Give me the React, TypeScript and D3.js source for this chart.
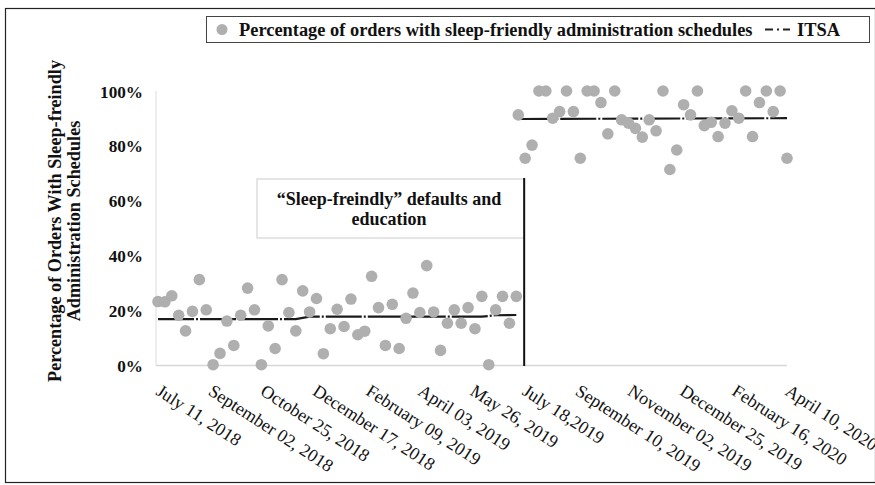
import React from "react";
import * as d3 from "d3";

// ---- data ----
const preStartDate = "2018-07-11";
const preValues = [
  23.3, 23.2, 25.4, 18.3, 12.6, 19.7, 31.3, 20.3, 0.3, 4.4,
  16.2, 7.3, 18.3, 28.2, 20.3, 0.3, 14.4, 6.2, 31.3, 19.3,
  12.6, 27.2, 19.5, 24.4, 4.3, 13.4, 20.5, 14.2, 24.2, 11.2,
  12.5, 32.5, 21.1, 7.3, 22.3, 6.2, 17.2, 26.4, 19.3, 36.4,
  19.5, 5.5, 15.4, 20.3, 15.4, 21.1, 13.4, 25.2, 0.3, 20.3,
  25.2, 15.4, 25.2,
];
const postStartDate = "2019-07-12";
const postValues = [
  91.3, 75.5, 80.3, 100, 100, 90.1, 92.5, 100, 92.5, 75.5,
  100, 100, 95.8, 84.4, 100, 89.5, 88.3, 86.4, 83.2, 89.5,
  85.5, 100, 71.4, 78.5, 95, 91.3, 100, 87.4, 88.6, 83.4,
  88.3, 92.8, 90.1, 100, 83.4, 95.8, 100, 92.5, 100, 75.5,
];
const itsaPreDates = ["2018-07-11", "2018-11-28", "2018-12-12", "2019-06-05", "2019-06-19", "2019-07-10"];
const itsaPreValues = [16.9, 16.9, 17.8, 17.8, 18.3, 18.4];
const itsaPostDates = ["2019-07-12", "2020-04-10"];
const itsaPostValues = [89.8, 90.1];
const interventionDate = "2019-07-18";

const tickDates = [
  "2018-07-11", "2018-09-02", "2018-10-25", "2018-12-17", "2019-02-09", "2019-04-03",
  "2019-05-26", "2019-07-18", "2019-09-10", "2019-11-02", "2019-12-25", "2020-02-16", "2020-04-10",
];
const tickLabels = [
  "July 11, 2018", "September 02, 2018", "October 25, 2018", "December 17, 2018",
  "February 09, 2019", "April 03, 2019", "May 26, 2019", "July 18,2019",
  "September 10, 2019", "November 02, 2019", "December 25, 2019", "February 16, 2020", "April 10, 2020",
];
const yTicks = [0, 20, 40, 60, 80, 100];
const yTitle = ["Percentage of Orders With Sleep-freindly", "Administration Schedules"];
const legendLabels = ["Percentage of orders with sleep-friendly administration schedules", "ITSA"];
const noteLines = ["\u201CSleep-freindly\u201D defaults and", "education"];

const parse = d3.utcParse("%Y-%m-%d");
const FONT = "'Liberation Serif', 'Times New Roman', serif";

export default function App() {
  const W = 875, H = 485;
  const x = d3.scaleUtc().domain([parse("2018-07-11")!, parse("2020-04-10")!]).range([158, 787]);
  const y = d3.scaleLinear().domain([0, 100]).range([365.5, 91]);

  const pre = preValues.map((v, i) => ({ d: d3.utcDay.offset(parse(preStartDate)!, i * 7), v }));
  const post = postValues.map((v, i) => ({ d: d3.utcDay.offset(parse(postStartDate)!, i * 7), v }));
  const points = [...pre, ...post];

  const line = d3.line<{ d: Date; v: number }>().x((p) => x(p.d)).y((p) => y(p.v));
  const itsaPre = itsaPreDates.map((s, i) => ({ d: parse(s)!, v: itsaPreValues[i] }));
  const itsaPost = itsaPostDates.map((s, i) => ({ d: parse(s)!, v: itsaPostValues[i] }));

  const xi = x(parse(interventionDate)!);
  const dash = "36,2,2,2";
  const ptColor = "#afafaf";

  return (
    <svg width={W} height={H} style={{ position: "absolute", left: 0, top: 0, display: "block" }}
      fontFamily={FONT}>
      <rect x={0} y={0} width={W} height={H} fill="#fff" />
      {/* outer frame */}
      <rect x={5.5} y={8.5} width={870} height={474} fill="none" stroke="#222" strokeWidth={1.2} />

      {/* legend */}
      <rect x={206.5} y={16.5} width={663} height={26} fill="#fff" stroke="#444" strokeWidth={1} />
      <circle cx={222} cy={29.5} r={5.5} fill={ptColor} />
      <text x={239} y={35.5} fontSize={18.4} fontWeight="bold" fill="#111">{legendLabels[0]}</text>
      <line x1={765} x2={790} y1={29.5} y2={29.5} stroke="#222" strokeWidth={2} strokeDasharray="8,4,2,4" />
      <text x={797} y={35.5} fontSize={18.4} fontWeight="bold" fill="#111">{legendLabels[1]}</text>

      {/* axes lines */}
      <line x1={156} x2={156} y1={91} y2={365.5} stroke="#dcdcdc" strokeWidth={1} />
      <line x1={156} x2={787} y1={365.5} y2={365.5} stroke="#d6d6d6" strokeWidth={1.3} />

      {/* y ticks */}
      {yTicks.map((t) => (
        <text key={t} x={143} y={y(t) + 6.5} textAnchor="end" fontSize={17.2} fontWeight="bold" fill="#111">
          {t}%
        </text>
      ))}

      {/* y title */}
      <g transform={`translate(0,221) rotate(-90)`}>
        <text x={0} y={61} textAnchor="middle" fontSize={18.2} fontWeight="bold" fill="#111">{yTitle[0]}</text>
        <text x={0} y={80} textAnchor="middle" fontSize={18.2} fontWeight="bold" fill="#111">{yTitle[1]}</text>
      </g>

      {/* x tick labels */}
      {tickDates.map((s, i) => {
        const tx = x(parse(s)!) - 3;
        const ty = 394;
        return (
          <text key={s} x={tx} y={ty} fontSize={18} fill="#111" transform={`rotate(33,${tx},${ty})`}>
            {tickLabels[i]}
          </text>
        );
      })}

      {/* annotation box */}
      <rect x={257} y={179} width={xi - 257} height={59} fill="#fff" stroke="#d4d4d4" strokeWidth={1.2} />
      <text x={389} y={205} textAnchor="middle" fontSize={18} fontWeight="bold" fill="#111">{noteLines[0]}</text>
      <text x={389} y={225} textAnchor="middle" fontSize={18} fontWeight="bold" fill="#111">{noteLines[1]}</text>
      <line x1={xi} x2={xi} y1={178} y2={366} stroke="#111" strokeWidth={2} />

      {/* ITSA lines */}
      <path d={line(itsaPre) || ""} fill="none" stroke="#1a1a1a" strokeWidth={2.2} strokeDasharray={dash} />
      <path d={line(itsaPost) || ""} fill="none" stroke="#1a1a1a" strokeWidth={2.2} strokeDasharray={dash} />

      {/* points */}
      {points.map((p, i) => (
        <circle key={i} cx={x(p.d)} cy={y(p.v)} r={5.8} fill={ptColor} />
      ))}
    </svg>
  );
}
